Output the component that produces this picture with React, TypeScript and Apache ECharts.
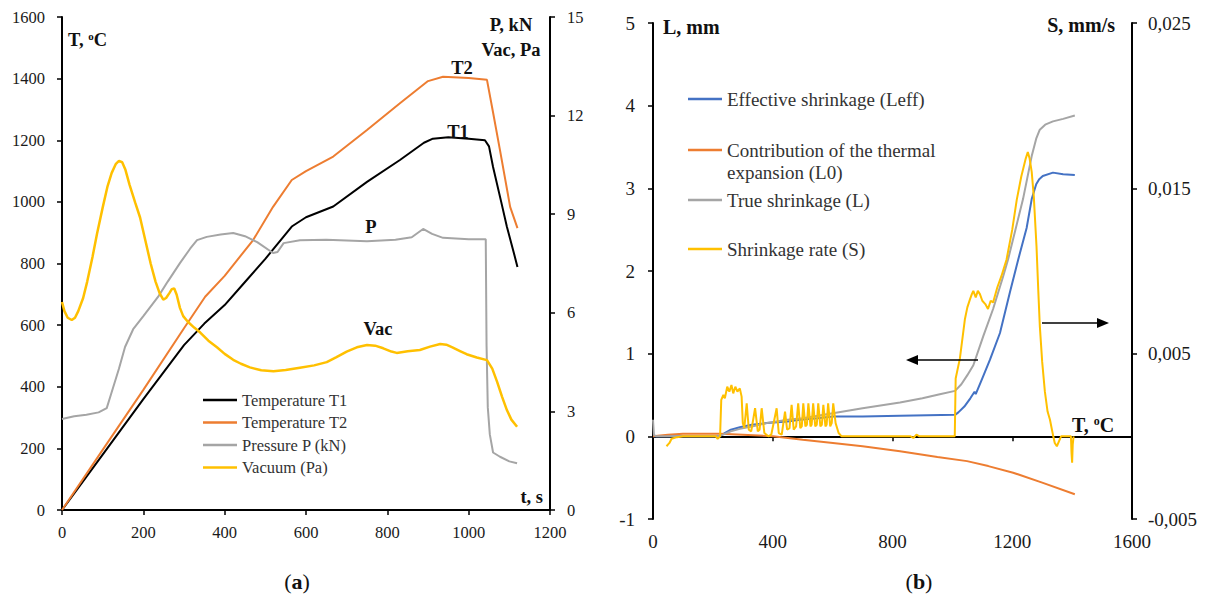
import React, { useEffect, useRef } from "react";
import * as echarts from "echarts";

// ---------- Panel (a): time (s) vs temperature / pressure / vacuum ----------
const t1Data: number[][] = [
  [0, 0], [100, 180], [200, 360], [300, 535], [350, 605], [400, 665], [450, 740],
  [500, 815], [565, 920], [600, 950], [667, 985], [750, 1065], [831, 1136],
  [890, 1192], [912, 1205], [950, 1210], [1000, 1205], [1040, 1200], [1050, 1180],
  [1060, 1113], [1080, 1000], [1094, 919], [1110, 840], [1120, 789],
];
const t2Data: number[][] = [
  [0, 0], [100, 195], [200, 390], [300, 590], [352, 692], [400, 760], [470, 876],
  [519, 984], [565, 1071], [600, 1100], [667, 1147], [750, 1233], [831, 1320],
  [900, 1392], [937, 1406], [1000, 1402], [1045, 1396], [1060, 1290], [1077, 1168],
  [1102, 984], [1120, 915],
];
const pData: number[][] = [
  [0, 2.77], [30, 2.85], [60, 2.9], [90, 2.97], [110, 3.1], [120, 3.5], [140, 4.3],
  [155, 4.96], [175, 5.5], [200, 5.9], [237, 6.5], [260, 6.95], [290, 7.51],
  [315, 7.95], [332, 8.21], [356, 8.31], [390, 8.38], [421, 8.43], [450, 8.33],
  [480, 8.15], [519, 7.82], [530, 7.85], [545, 8.12], [585, 8.21], [650, 8.22],
  [750, 8.18], [820, 8.22], [860, 8.3], [888, 8.55], [910, 8.4], [937, 8.28],
  [1000, 8.24], [1042, 8.24], [1044, 5.0], [1047, 3.13], [1052, 2.3], [1060, 1.75],
  [1077, 1.62], [1100, 1.48], [1119, 1.42],
];
const vacData: number[][] = [
  [0, 6.33], [6, 6.05], [14, 5.85], [24, 5.78], [32, 5.85], [40, 6.05], [52, 6.45],
  [62, 6.95], [75, 7.7], [86, 8.4], [100, 9.2], [112, 9.85], [122, 10.25], [132, 10.52],
  [140, 10.62], [148, 10.58], [156, 10.35], [166, 9.9], [180, 9.35], [192, 8.9],
  [205, 8.2], [218, 7.5], [230, 6.95], [240, 6.6], [249, 6.4], [256, 6.45], [264, 6.6],
  [270, 6.72], [276, 6.74], [282, 6.55], [290, 6.15], [298, 5.9], [310, 5.72],
  [325, 5.55], [340, 5.4], [360, 5.15], [381, 4.95], [400, 4.75], [421, 4.57],
  [440, 4.45], [462, 4.34], [490, 4.25], [520, 4.22], [550, 4.26], [585, 4.33],
  [620, 4.4], [651, 4.5], [675, 4.65], [700, 4.82], [725, 4.95], [750, 5.02],
  [770, 5.0], [790, 4.92], [810, 4.82], [823, 4.78], [850, 4.83], [880, 4.87],
  [905, 4.97], [930, 5.05], [945, 5.03], [960, 4.95], [980, 4.83], [995, 4.74],
  [1020, 4.64], [1045, 4.56], [1058, 4.3], [1070, 3.9], [1082, 3.45], [1094, 3.04],
  [1105, 2.75], [1119, 2.53],
];
const legendA = ["Temperature T1", "Temperature T2", "Pressure P (kN)", "Vacuum (Pa)"];

// ---------- Panel (b): temperature (°C) vs shrinkage (mm) / rate (mm/s) ----------
const leffData: number[][] = [
  [0, 0], [220, 0], [235, 0.03], [260, 0.08], [290, 0.11], [330, 0.14], [380, 0.16],
  [450, 0.18], [490, 0.2], [550, 0.22], [601, 0.24], [700, 0.24], [825, 0.25],
  [1009, 0.26], [1020, 0.29], [1040, 0.36], [1060, 0.46], [1074, 0.54], [1078, 0.51],
  [1100, 0.7], [1126, 0.93], [1159, 1.25], [1192, 1.74], [1220, 2.14], [1248, 2.52],
  [1265, 2.87], [1280, 3.05], [1290, 3.11], [1302, 3.15], [1336, 3.19], [1370, 3.17],
  [1409, 3.16],
];
const l0Data: number[][] = [
  [0, 0], [50, 0.02], [100, 0.03], [224, 0.03], [300, 0.02], [401, 0], [500, -0.04],
  [601, -0.08], [700, -0.12], [825, -0.18], [950, -0.25], [1049, -0.3], [1120, -0.36],
  [1203, -0.44], [1300, -0.56], [1409, -0.7],
];
const lData: number[][] = [
  [0, 0.2], [3, 0.02], [10, 0], [220, 0], [240, 0.03], [260, 0.06], [290, 0.09],
  [330, 0.12], [380, 0.16], [450, 0.2], [500, 0.22], [601, 0.28], [700, 0.34],
  [825, 0.41], [900, 0.46], [958, 0.51], [1009, 0.55], [1030, 0.63], [1050, 0.74],
  [1070, 0.86], [1103, 1.21], [1136, 1.54], [1170, 1.94], [1186, 2.14], [1236, 2.87],
  [1250, 3.12], [1265, 3.39], [1280, 3.6], [1292, 3.71], [1310, 3.77], [1336, 3.81],
  [1370, 3.84], [1409, 3.88],
];
const sData: number[][] = [
  [45, -0.0006], [55, -0.0004], [62, -0.00015], [80, -0.00005], [100, 0], [210, 0],
  [216, -0.00015], [224, 0], [228, 0.0022], [235, 0.0025], [240, 0.0023], [248, 0.003],
  [255, 0.0027], [262, 0.0031], [268, 0.0026], [275, 0.003], [282, 0.0027], [290, 0.0029],
  [296, 0.0024], [300, 0.0008], [305, 0.0005], [313, 0.002], [320, 0.0004], [328, 0.0003],
  [341, 0.0017], [350, 0.0003], [356, 0.0004], [363, 0.0017], [372, 0.0002], [385, 0],
  [395, 0.0001], [413, 0.0017], [420, 0.0002], [430, 0.0001], [441, 0.0015], [448, 0.0004],
  [456, 0.0005], [463, 0.0019], [470, 0.0004], [478, 0.0006], [485, 0.002], [492, 0.0005],
  [497, 0.0006], [502, 0.002], [509, 0.0006], [514, 0.0007], [519, 0.002], [526, 0.0006],
  [530, 0.0007], [535, 0.002], [542, 0.0006], [547, 0.0007], [552, 0.002], [559, 0.0006],
  [564, 0.0007], [569, 0.0019], [576, 0.0006], [580, 0.0007], [585, 0.002], [592, 0.0006],
  [597, 0.0008], [602, 0.002], [610, 0.0008], [620, 0.0002], [630, 0], [860, 0],
  [870, -0.0001], [880, 0.0001], [890, 0], [1008, 0], [1011, 0.0035], [1025, 0.0047],
  [1042, 0.0071], [1050, 0.0078], [1059, 0.0083], [1065, 0.0086], [1070, 0.0088],
  [1078, 0.0084], [1085, 0.0088], [1092, 0.0086], [1100, 0.0082], [1110, 0.008],
  [1119, 0.0077], [1128, 0.0082], [1136, 0.0081], [1150, 0.009], [1164, 0.0097],
  [1181, 0.0107], [1200, 0.0125], [1215, 0.0143], [1230, 0.0157], [1245, 0.0168],
  [1252, 0.0172], [1258, 0.0168], [1265, 0.016], [1272, 0.0145], [1281, 0.0115],
  [1287, 0.0088], [1292, 0.0067], [1300, 0.0045], [1309, 0.0027], [1318, 0.0015],
  [1326, 0.001], [1337, 0], [1342, -0.0004], [1349, -0.0006], [1356, -0.0003],
  [1363, 0], [1396, 0], [1398, -0.001], [1400, -0.0016], [1402, -0.0005], [1405, 0],
];
const legendB = [
  "Effective shrinkage (Leff)",
  "Contribution of the thermal expansion (L0)",
  "True shrinkage (L)",
  "Shrinkage rate (S)",
];

const FONT = "Liberation Serif";
const BLACK = "#000000";
const ORANGE = "#ED7D31";
const GRAY = "#A5A5A5";
const YELLOW = "#FFC000";
const BLUE = "#4472C4";

function axisBase(margin: number, fontSize: number, formatter?: (v: number) => string) {
  return {
    axisLine: { show: true, onZero: false, lineStyle: { color: "#000", width: 2 } },
    axisTick: { show: true, inside: false, length: 5, lineStyle: { color: "#000", width: 1.5 } },
    axisLabel: {
      fontFamily: FONT, fontSize, color: "#1a1a1a", margin,
      formatter: formatter || ((v: number) => String(v)),
    },
    splitLine: { show: false },
  };
}

function boldText(text: string, x: number, y: number, size: number, align = "left", rich = false) {
  const style: any = {
    text,
    fill: "#111",
    fontFamily: FONT,
    fontSize: size,
    fontWeight: "bold",
    align,
    verticalAlign: "middle",
  };
  if (rich) {
    style.rich = {
      n: { fontFamily: FONT, fontSize: size, fontWeight: "bold", fill: "#111", verticalAlign: "bottom" },
      s: { fontFamily: FONT, fontSize: Math.round(size * 0.62), fontWeight: "bold", fill: "#111", verticalAlign: "top" },
    };
  }
  return { type: "text", x, y, style, z: 100 };
}

function line(name: string, data: number[][], color: string, xi: number, yi: number, width = 2) {
  return {
    name,
    type: "line",
    xAxisIndex: xi,
    yAxisIndex: yi,
    data,
    symbol: "none",
    showSymbol: false,
    lineStyle: { color, width },
    itemStyle: { color },
  };
}

export default function App() {
  const ref = useRef<HTMLDivElement>(null);

  useEffect(() => {
    document.body.style.margin = "0";
    const chart = echarts.init(ref.current!, null, { renderer: "svg" });

    const legendTextB = { fontFamily: FONT, fontSize: 19, color: "#333", lineHeight: 20 };
    const legendCommon = {
      orient: "vertical",
      icon: "rect",
      itemWidth: 34,
      itemHeight: 2.5,
      itemGap: 4.5,
      padding: 0,
      selectedMode: false,
    };

    const option: any = {
      animation: false,
      backgroundColor: "#ffffff",
      textStyle: { fontFamily: FONT },
      grid: [
        { left: 62, top: 17, width: 488, height: 493 },
        { left: 653, top: 23, width: 479, height: 496 },
      ],
      xAxis: [
        { type: "value", gridIndex: 0, min: 0, max: 1200, interval: 200, ...axisBase(14, 16.5) },
        {
          type: "value", gridIndex: 1, min: 0, max: 1600, interval: 400, ...axisBase(13, 19),
          axisLine: { show: true, onZero: true, lineStyle: { color: "#000", width: 2 } },
        },
      ],
      yAxis: [
        { type: "value", gridIndex: 0, position: "left", min: 0, max: 1600, interval: 200, ...axisBase(17, 16.5) },
        { type: "value", gridIndex: 0, position: "right", min: 0, max: 15, interval: 3, ...axisBase(17, 16.5) },
        { type: "value", gridIndex: 1, position: "left", min: -1, max: 5, interval: 1, ...axisBase(18, 19) },
        {
          type: "value", gridIndex: 1, position: "right", min: -0.005, max: 0.025, interval: 0.01,
          ...axisBase(16, 19, (v: number) => v.toFixed(3).replace(".", ",")),
        },
      ],
      legend: [
        {
          ...legendCommon, left: 203, top: 391, data: legendA,
          textStyle: { fontFamily: FONT, fontSize: 16.5, color: "#333", lineHeight: 18 },
        },
        { ...legendCommon, left: 688, top: 89, data: [legendB[0]], textStyle: legendTextB },
        {
          ...legendCommon, left: 688, top: 140, data: [legendB[1]], textStyle: legendTextB,
          formatter: () => "Contribution of the thermal",
        },
        { ...legendCommon, left: 688, top: 190, data: [legendB[2]], textStyle: legendTextB },
        { ...legendCommon, left: 688, top: 239, data: [legendB[3]], textStyle: legendTextB },
      ],
      series: [
        line(legendA[0], t1Data, BLACK, 0, 0, 2),
        line(legendA[1], t2Data, ORANGE, 0, 0, 2),
        line(legendA[2], pData, GRAY, 0, 1, 2),
        line(legendA[3], vacData, YELLOW, 0, 1, 2.5),
        line(legendB[0], leffData, BLUE, 1, 2, 2),
        line(legendB[1], l0Data, ORANGE, 1, 2, 2),
        line(legendB[2], lData, GRAY, 1, 2, 2),
        line(legendB[3], sData, YELLOW, 1, 3, 2),
      ],
      graphic: [
        // panel (a) annotations
        boldText("{n|T, }{s|o}{n|C}", 68, 40, 18.5, "left", true),
        boldText("P, kN", 511, 25, 18.5, "center"),
        boldText("Vac, Pa", 511, 50, 18.5, "center"),
        boldText("T2", 462, 68, 18.5, "center"),
        boldText("T1", 458, 132, 18.5, "center"),
        boldText("P", 371, 227, 18.5, "center"),
        boldText("Vac", 378, 329, 18.5, "center"),
        boldText("t, s", 543, 497, 18.5, "right"),
        // panel (b) annotations
        boldText("L, mm", 663, 27, 20, "left"),
        boldText("S, mm/s", 1115, 25, 20, "right"),
        boldText("{n|T, }{s|o}{n|C}", 1072, 425, 20, "left", true),
        {
          type: "text", x: 727, y: 172, z: 100,
          style: { text: "expansion (L0)", fontFamily: FONT, fontSize: 19, fill: "#333", align: "left", verticalAlign: "middle" },
        },
        // arrows
        { type: "line", z: 100, shape: { x1: 978, y1: 360, x2: 916, y2: 360 }, style: { stroke: "#000", lineWidth: 1.5 } },
        { type: "polygon", z: 100, shape: { points: [[906, 360], [918, 355], [918, 365]] }, style: { fill: "#000" } },
        { type: "line", z: 100, shape: { x1: 1042, y1: 323, x2: 1099, y2: 323 }, style: { stroke: "#000", lineWidth: 1.5 } },
        { type: "polygon", z: 100, shape: { points: [[1109, 323], [1097, 318], [1097, 328]] }, style: { fill: "#000" } },
        // sub-figure labels
        {
          type: "text", x: 297, y: 581, z: 100,
          style: {
            text: "{p|(}{b|a}{p|)}", align: "center", verticalAlign: "middle",
            rich: {
              p: { fontFamily: FONT, fontSize: 22, fill: "#111" },
              b: { fontFamily: FONT, fontSize: 22, fontWeight: "bold", fill: "#111" },
            },
          },
        },
        {
          type: "text", x: 919, y: 581, z: 100,
          style: {
            text: "{p|(}{b|b}{p|)}", align: "center", verticalAlign: "middle",
            rich: {
              p: { fontFamily: FONT, fontSize: 22, fill: "#111" },
              b: { fontFamily: FONT, fontSize: 22, fontWeight: "bold", fill: "#111" },
            },
          },
        },
      ],
    };

    chart.setOption(option);
    return () => chart.dispose();
  }, []);

  return <div ref={ref} style={{ width: 1206, height: 596 }} />;
}
